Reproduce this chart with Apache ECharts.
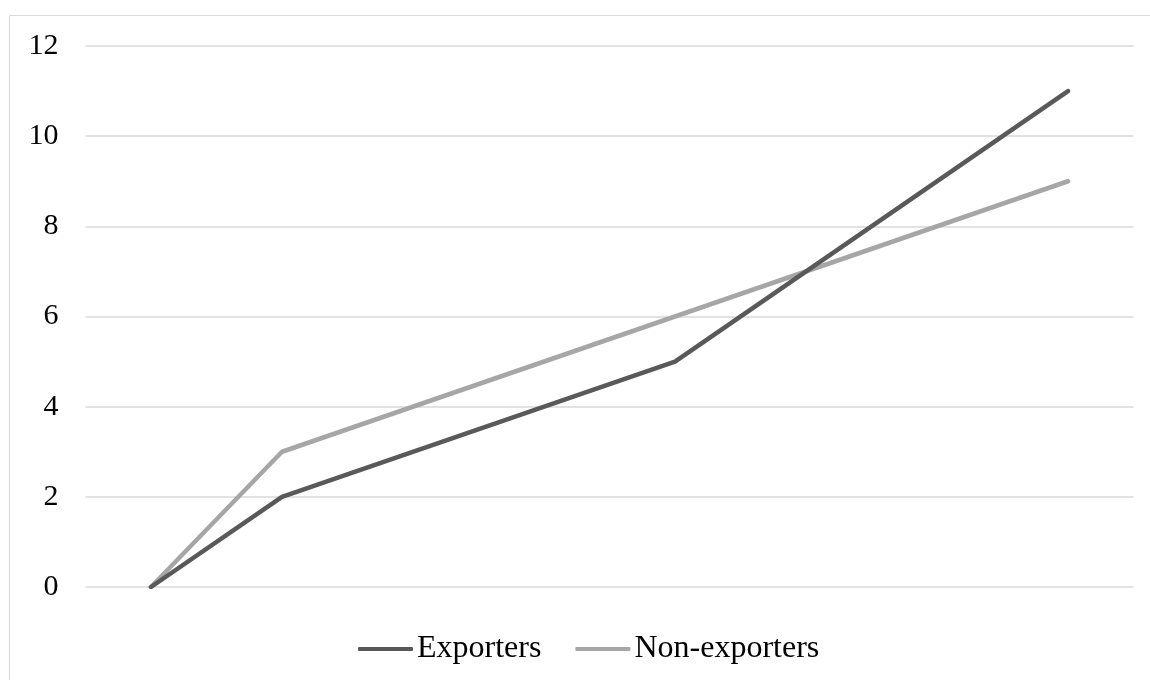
<!DOCTYPE html>
<html><head><meta charset="utf-8">
<script src="https://cdn.jsdelivr.net/npm/echarts@6/dist/echarts.min.js"></script>
<style>html,body{margin:0;padding:0;background:#fff}#c{width:1150px;height:680px}</style>
</head><body><div id="c"></div>
<script>
const categories = ['1','2','3','4','5','6','7','8'];
const exporters = [0, 2, null, null, 5, null, null, 11];
const nonExporters = [0, 3, null, null, 6, null, null, 9];
const yTicks = [0, 2, 4, 6, 8, 10, 12];

const chart = echarts.init(document.getElementById('c'));
const font = 'Liberation Serif, Times New Roman, serif';
chart.setOption({
  animation: false,
  backgroundColor: '#fff',
  graphic: [{
    type: 'rect', shape: {x: 9.5, y: 15.5, width: 1200, height: 700},
    style: {fill: 'none', stroke: '#d9d9d9', lineWidth: 1}, silent: true
  }],
  grid: {left: 85.5, right: 16.5, top: 46, bottom: 93, containLabel: false},
  legend: {
    top: 633, left: 358, padding: 0, itemWidth: 55, itemHeight: 4, itemGap: 34,
    icon: 'roundRect',
    textStyle: {fontFamily: font, fontSize: 32, color: '#000', padding: [0,0,0,-1]},
    data: ['Exporters', 'Non-exporters']
  },
  xAxis: {
    type: 'category', data: categories, boundaryGap: true,
    axisLine: {show: false}, axisTick: {show: false}, axisLabel: {show: false}
  },
  yAxis: {
    type: 'value', min: yTicks[0], max: yTicks[yTicks.length-1], interval: 2,
    axisLine: {show: false}, axisTick: {show: false},
    axisLabel: {fontFamily: font, fontSize: 30, color: '#000', margin: 27},
    splitLine: {lineStyle: {color: '#d9d9d9', width: 1.5}}
  },
  series: [
    {name: 'Exporters', type: 'line', data: exporters, connectNulls: true, showSymbol: false,
     lineStyle: {color: '#595959', width: 4.5, cap: 'round'}, itemStyle: {color: '#595959'}, z: 3},
    {name: 'Non-exporters', type: 'line', data: nonExporters, connectNulls: true, showSymbol: false,
     lineStyle: {color: '#a6a6a6', width: 4.5, cap: 'round'}, itemStyle: {color: '#a6a6a6'}, z: 2}
  ]
});
</script></body></html>
